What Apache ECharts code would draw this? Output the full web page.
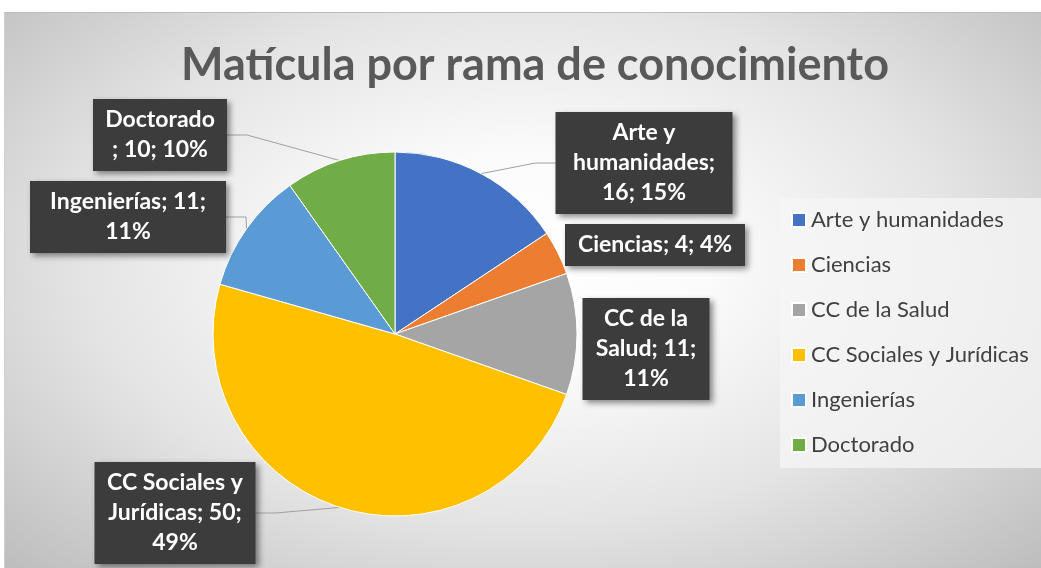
<!DOCTYPE html>
<html>
<head>
<meta charset="utf-8">
<script src="https://cdn.jsdelivr.net/npm/echarts@6/dist/echarts.min.js"></script>
<style>
html,body{margin:0;padding:0;background:#fff;}
#bg{position:absolute;left:4px;top:12px;width:1037px;height:556px;
	border-top:1px solid #bcbcbc;border-left:1px solid #d0d0d0;box-sizing:border-box;
	background:radial-gradient(ellipse farthest-corner at 50% 45%,#ffffff 0%,#fbfbfb 25%,#e4e4e4 60%,#bdbdbd 100%);}
#main{position:absolute;left:0;top:0;width:1041px;height:568px;}
</style>
</head>
<body>
<div id="bg"></div>
<div id="main"></div>
<script>
// datos
var ramas = ['Arte y humanidades', 'Ciencias', 'CC de la Salud', 'CC Sociales y Jurídicas', 'Ingenierías', 'Doctorado'];
var matricula = [16, 4, 11, 50, 11, 10];
var porcentajes = [15, 4, 11, 49, 11, 10];
var colores = ['#4472C4', '#ED7D31', '#A5A5A5', '#FFC000', '#5B9BD5', '#70AD47'];

// donde empieza cada linea de la etiqueta (indices del texto "nombre; valor; pct%")
var cortes = [[7, 20], [], [9, 20], [14, 29], [17], [9]];
// posicion (centro de la caja) y ancho de cada etiqueta
var posEtiqueta = [[644, 163], [655, 245], [646, 349], [175, 513], [128, 217], [160, 135]];
var anchoEtiqueta = [161, 164, 111, 145, 180, 118];
var conLinea = [true, false, false, true, true, true];

var fuente = 'Lato, "Open Sans", sans-serif';

function textoEtiqueta(i) {
	var s = ramas[i] + '; ' + matricula[i] + '; ' + porcentajes[i] + '%';
	var partes = [], ini = 0;
	cortes[i].forEach(function (c) {
		partes.push(s.slice(ini, c).trim());
		ini = c;
	});
	partes.push(s.slice(ini).trim());
	return partes.join('\n');
}

var datos = ramas.map(function (r, i) {
	return {
		name: r,
		value: matricula[i],
		itemStyle: {color: colores[i]},
		label: {width: anchoEtiqueta[i]},
		labelLine: {show: conLinea[i]}
	};
});

var chart = echarts.init(document.getElementById('main'));
var option = {
	backgroundColor: 'transparent',
	title: {
		text: 'Matícula por rama de conocimiento',
		left: 530,
		top: 38,
		textAlign: 'center',
		textStyle: {fontFamily: fuente, fontSize: 45, fontWeight: 'bold', color: '#595959'}
	},
	legend: {
		orient: 'vertical',
		left: 780,
		top: 198,
		padding: [11, 26, 12, 11],
		itemGap: 23,
		itemWidth: 14,
		itemHeight: 14,
		icon: 'rect',
		backgroundColor: 'rgba(246,246,246,0.75)',
		textStyle: {fontFamily: fuente, fontSize: 22, color: '#404040'},
		data: ramas
	},
	series: [{
		name: 'matricula',
		type: 'pie',
		center: [395, 334],
		radius: 182,
		startAngle: 90,
		clockwise: true,
		animation: false,
		itemStyle: {borderColor: '#fff', borderWidth: 1},
		label: {
			show: true,
			position: 'outside',
			formatter: function (p) { return textoEtiqueta(p.dataIndex); },
			overflow: 'none',
			align: 'center',
			fontFamily: fuente,
			fontSize: 23,
			fontWeight: 'bold',
			lineHeight: 30,
			color: '#fff',
			backgroundColor: '#3c3c3c',
			padding: [6, 8],
			shadowColor: 'rgba(0,0,0,0.45)',
			shadowBlur: 6,
			shadowOffsetX: 3,
			shadowOffsetY: 3
		},
		labelLine: {
			length: 15,
			length2: 20,
			lineStyle: {color: '#a0a0a0', width: 1}
		},
		labelLayout: function (params) {
			var p = posEtiqueta[params.dataIndex];
			return {x: p[0], y: p[1], align: 'center', verticalAlign: 'middle'};
		},
		data: datos
	}]
};
chart.setOption(option);
</script>
</body>
</html>
